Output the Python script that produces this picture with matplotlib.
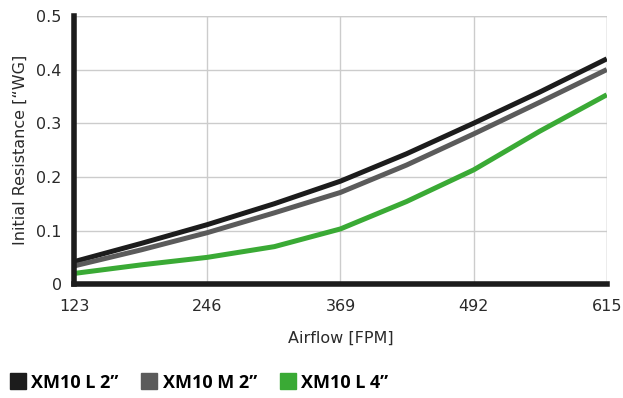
import matplotlib.pyplot as plt
from matplotlib.lines import Line2D

plt.rcParams['font.family'] = ['DejaVu Sans']

# airflow [FPM] and initial resistance ["WG]
airflow = [123, 185, 246, 308, 369, 430, 492, 553, 615]
xm10_l2 = [0.042, 0.076, 0.111, 0.150, 0.192, 0.243, 0.300, 0.358, 0.42]
xm10_m2 = [0.034, 0.064, 0.096, 0.133, 0.171, 0.222, 0.280, 0.339, 0.40]
xm10_l4 = [0.02, 0.036, 0.05, 0.070, 0.103, 0.154, 0.213, 0.285, 0.353]

xticks = [123, 246, 369, 492, 615]
yticks = [0, 0.1, 0.2, 0.3, 0.4, 0.5]
ylabels = ['0', '0.1', '0.2', '0.3', '0.4', '0.5']

names = ['XM10 L 2\u201d', 'XM10 M 2\u201d', 'XM10 L 4\u201d']
colors = ['#1c1c1c', '#5b5b5b', '#3aaa35']

fig = plt.figure(figsize=(6.23, 3.98), dpi=100)
ax = fig.add_axes([0.119, 0.286, 0.855, 0.674])

for ys, c in zip([xm10_l2, xm10_m2, xm10_l4], colors):
    ax.plot(airflow, ys, color=c, lw=3.6, solid_capstyle='butt',
            solid_joinstyle='round', zorder=3)

ax.set_xlim(123, 615)
ax.set_ylim(0, 0.5)
ax.set_xticks(xticks)
ax.set_yticks(yticks)
ax.set_yticklabels(ylabels)
ax.grid(True, color='#cccccc', lw=1)
ax.set_axisbelow(True)

for s in ['top', 'right']:
    ax.spines[s].set_visible(False)
for s in ['left', 'bottom']:
    ax.spines[s].set_linewidth(4)
    ax.spines[s].set_color('#1c1c1c')
    ax.spines[s].set_zorder(5)

# right and top grid edges
ax.axvline(615, color='#cccccc', lw=1, zorder=0)
ax.axhline(0.5, color='#cccccc', lw=1, zorder=0)

ax.tick_params(length=0, labelsize=11.5, labelcolor='#2a2a2a')
ax.tick_params(axis='x', pad=11)
ax.tick_params(axis='y', pad=9)
ax.set_xlabel('Airflow [FPM]', fontsize=11.5, color='#2a2a2a', labelpad=12)
ax.set_ylabel('Initial Resistance [\u201cWG]', fontsize=11.5, color='#2a2a2a', labelpad=6)

handles = [Line2D([], [], marker='s', ls='', color=c, markersize=11) for c in colors]
fig.legend(handles, names, loc='lower left', bbox_to_anchor=(-0.012, -0.025), ncol=3,
           frameon=False, handletextpad=0.25, columnspacing=1.2, handlelength=1.0,
           prop={'family': 'Open Sans', 'weight': 'bold', 'size': 13})

fig.savefig('out.png', dpi=100)
